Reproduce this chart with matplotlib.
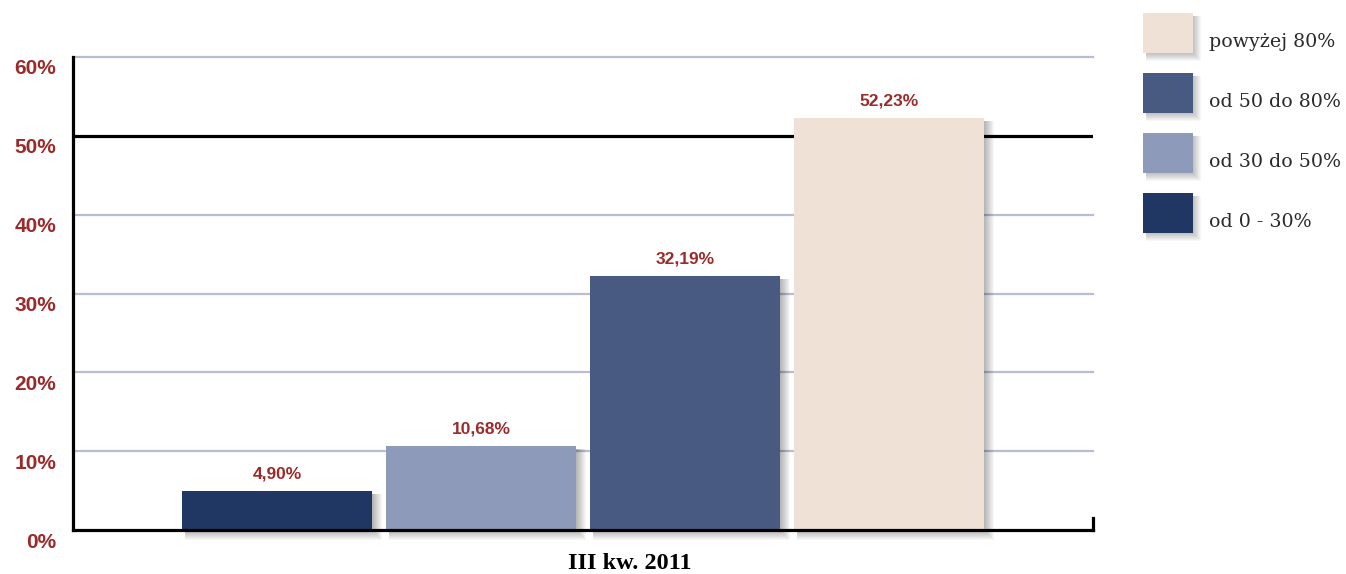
import matplotlib.pyplot as plt
from matplotlib.patches import Rectangle
from matplotlib.transforms import ScaledTranslation

categories = ["od 0 - 30%", "od 30 do 50%", "od 50 do 80%", "powyżej 80%"]
values = [4.90, 10.68, 32.19, 52.23]
colors = ["#213763", "#8e9aba", "#485a82", "#f0e1d6"]
yticks = [0, 10, 20, 30, 40, 50, 60]
period_label = "III kw. 2011"

label_red = "#9b2b2b"
grid_blue = "#b9bdd2"

W, H = 1346, 574
fig = plt.figure(figsize=(W / 100, H / 100), dpi=100)
ax = fig.add_axes([73 / W, 44 / H, (1093 - 73) / W, (530 - 57) / H])

x = list(range(len(values)))
bar_width = 0.93
ax.set_xlim(-1, 4)
ax.set_ylim(0, 60)

# one pixel in data units
px_x = 5 / (1093 - 73)
px_y = 60 / (530 - 57)

# horizontal reference lines
for t in yticks[1:]:
    if t == 50:
        ax.axhline(t, color="black", lw=2.3, zorder=1)
    else:
        ax.axhline(t, color=grid_blue, lw=1.6, zorder=1, clip_on=False)


def shadow_rects(x0, y0, w, h, steps=11):
    # soft shadow falling to the lower right, sizes in pixels
    for g in range(steps):
        yield (x0 + 3, y0 - g, w - 3 + g, h - 3 + g)


for xi, v in zip(x, values):
    left_px = (xi - bar_width / 2) / px_x
    for sx, sy, sw, sh in shadow_rects(left_px, 0, bar_width / px_x, v / px_y):
        ax.add_patch(Rectangle((sx * px_x, sy * px_y), sw * px_x, sh * px_y,
                               facecolor="black", edgecolor="none", alpha=0.03,
                               zorder=2, clip_on=False))

bars = ax.bar(x, values, width=bar_width, color=colors, zorder=3)
ax.bar_label(bars, labels=[f"{v:.2f}%".replace(".", ",") for v in values],
             padding=7, color=label_red, fontweight="bold", fontsize=12.5,
             family="Liberation Sans", zorder=4)

# axes frame
for side in ["top", "right"]:
    ax.spines[side].set_visible(False)
ax.spines["left"].set_linewidth(2.3)
ax.spines["bottom"].set_linewidth(2.3)
ax.spines["left"].set_zorder(5)
ax.spines["bottom"].set_zorder(5)
ax.plot([4, 4], [0, 1.5], color="black", lw=2.3, clip_on=False, zorder=5)

ax.set_xticks([])
ax.set_yticks(yticks)
ax.set_yticklabels([f"{t}%" for t in yticks], color=label_red, fontweight="bold",
                   fontsize=15, family="Liberation Sans")
ax.tick_params(axis="y", length=0, pad=12)
for lab in ax.get_yticklabels():
    lab.set_transform(lab.get_transform() + ScaledTranslation(0, -0.1, fig.dpi_scale_trans))

ax.text(1.73, -4.2, period_label, ha="center", va="center", fontsize=17.5,
        fontweight="bold", family="Liberation Serif", clip_on=False)

# legend, top entry is the highest bucket
for i, (name, col) in enumerate(zip(categories[::-1], colors[::-1])):
    top = 13 + i * 60
    left = 1143
    bottom = H - top - 40
    for sx, sy, sw, sh in shadow_rects(left, bottom, 50, 40, steps=9):
        fig.add_artist(Rectangle((sx / W, sy / H), sw / W, sh / H, transform=fig.transFigure,
                                 facecolor="black", edgecolor="none", alpha=0.03))
    fig.add_artist(Rectangle((left / W, bottom / H), 50 / W, 40 / H,
                             transform=fig.transFigure, facecolor=col, edgecolor="none"))
    fig.text(1209 / W, (H - top - 29) / H, name, ha="left", va="center",
             fontsize=13.7, family="DejaVu Serif", color="#2a2a2a")

fig.savefig("out.png", dpi=100)
